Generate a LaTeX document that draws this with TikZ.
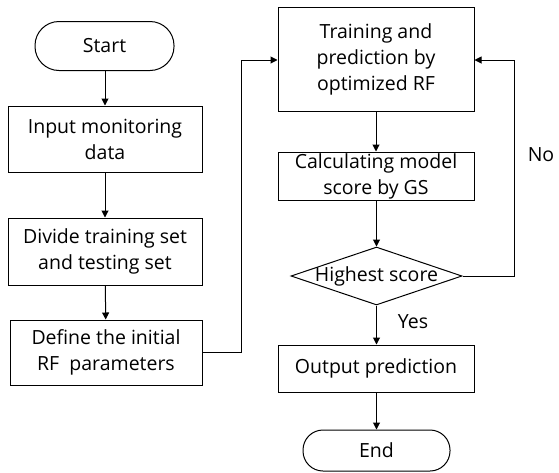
\documentclass[tikz,border=0pt]{standalone}
\usepackage{fontspec}
\setmainfont{Open Sans}
\usetikzlibrary{shapes.geometric,arrows.meta}
\begin{document}
\begin{tikzpicture}[x=1pt,y=-1pt,
  font=\fontsize{19.5}{26}\selectfont,
  box/.style={draw, line width=1pt, align=center, inner sep=0pt},
  term/.style={draw, line width=1pt, rounded corners=20pt, inner sep=0pt},
  arr/.style={draw, line width=1pt, -{Triangle[length=7pt,width=7pt]}},
  line/.style={draw, line width=1pt}]
\useasboundingbox (0,0) rectangle (559,472);
\node[term, minimum width=139pt, minimum height=49pt, rounded corners=24pt] (start) at (104.5,46) {Start};
\node[box, minimum width=194pt, minimum height=66pt] (input) at (105,139) {Input monitoring\\data};
\node[box, minimum width=194pt, minimum height=67pt] (divide) at (105,251.5) {Divide training set\\and testing set};
\node[box, minimum width=192pt, minimum height=65pt] (define) at (106,352.5) {Define the initial\\RF\ \ parameters};
\node[box, minimum width=196pt, minimum height=104pt] (train) at (376,59) {Training and\\prediction by\\optimized RF};
\node[box, minimum width=196pt, minimum height=48pt] (calc) at (376,176) {Calculating model\\score by GS};
\node[diamond, draw, line width=1pt, minimum width=171pt, minimum height=58pt, inner sep=0pt] (dec) at (376.5,276) {};
\node (dectext) at (dec.center) {Highest score};
\node[box, minimum width=196pt, minimum height=47pt] (output) at (376,368.5) {Output prediction};
\node[term, minimum width=147pt, minimum height=41pt] (end) at (376.5,450.5) {End};
\node (no) at (541,155) {No};
\node (yes) at (413,322) {Yes};
\coordinate (c1) at (241,60);
\coordinate (c2) at (514,60);
\path[arr] (start.south -| input.north) -- (input.north);
\path[arr] (input) -- (divide);
\path[arr] (divide) -- (define);
\path[arr] (define.east) -| (c1) -- (train.west |- c1);
\path[arr] (train.south -| calc.north) -- (calc.north);
\path[arr] (calc.south -| dec.north) -- (dec.north);
\path[arr] (dec.south) -- (output.north -| dec.south);
\path[arr] (output.south -| end.north) -- (end.north);
\path[arr] (dec.east) -| (c2) -- (train.east |- c2);
\end{tikzpicture}
\end{document}
